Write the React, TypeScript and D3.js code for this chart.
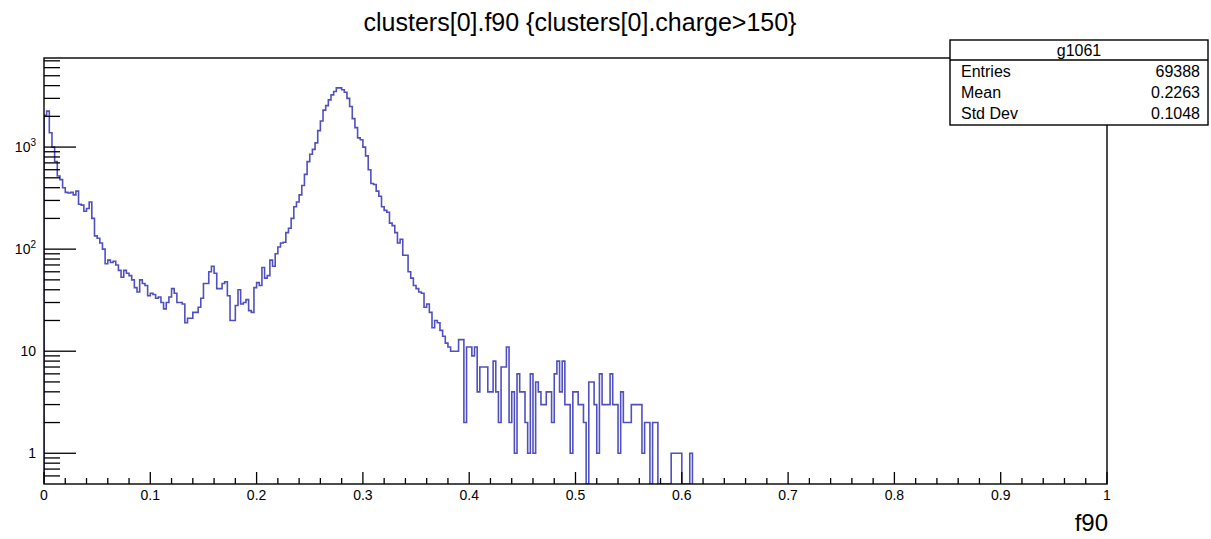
import React from "react";
import * as d3 from "d3";

// Histogram of clusters[0].f90 for clusters with charge > 150 (400 bins on [0, 1]).
const N_BINS = 400;
const X_MIN = 0;
const X_MAX = 1;
const Y_MIN = 0.5;
const Y_MAX = 7460;

// Bin contents, starting at bin 0; bins after the last entry are empty.
const binCounts = [
  2050, 2250, 1380, 1000, 720, 520, 480, 400, 360, 355,
  360, 340, 370, 275, 270, 235, 250, 290, 200, 135,
  128, 115, 100, 72, 78, 74, 76, 70, 62, 53,
  62, 58, 55, 50, 42, 38, 50, 46, 44, 35,
  37, 36, 33, 34, 30, 26, 30, 34, 41, 37,
  30, 30, 29, 19, 21, 21, 24, 24, 27, 33,
  46, 46, 60, 68, 58, 41, 41, 46, 48, 35,
  20, 20, 28, 40, 29, 30, 32, 25, 24, 42,
  47, 44, 66, 52, 55, 78, 68, 90, 105, 115,
  117, 145, 160, 200, 260, 290, 340, 420, 540, 720,
  850, 950, 1100, 1450, 1800, 2300, 2550, 2900, 3250, 3500,
  3800, 3800, 3650, 3450, 3000, 2500, 1900, 1550, 1230, 1180,
  1000, 820, 600, 440, 430, 370, 330, 260, 240, 230,
  180, 170, 145, 115, 125, 87, 87, 60, 52, 44,
  41, 38, 37, 27, 29, 24, 17, 20, 19, 16,
  14, 12, 11, 10, 10, 10, 13, 13, 2, 11,
  11, 9, 11, 4, 7, 7, 7, 4, 4, 8,
  4, 2, 7, 7, 11, 2, 4, 1, 6, 4,
  4, 2, 1, 6, 1, 5, 4, 3, 3, 4,
  4, 2, 6, 8, 4, 8, 3, 3, 1, 4,
  4, 3, 3, 2, 0, 5, 5, 3, 1, 6,
  3, 3, 3, 6, 3, 3, 1, 4, 2, 2,
  2, 3, 3, 3, 3, 1, 2, 2, 0, 2,
  2, 0, 0, 0, 0, 0, 1, 1, 1, 1,
  0, 0, 0, 1,
];

const xTickValues = [0, 0.1, 0.2, 0.3, 0.4, 0.5, 0.6, 0.7, 0.8, 0.9, 1];
const xTickLabels = ["0", "0.1", "0.2", "0.3", "0.4", "0.5", "0.6", "0.7", "0.8", "0.9", "1"];
const yMajorValues = [1, 10, 100, 1000];
const yLabelBases = ["1", "10", "10", "10"];
const yLabelExponents = ["", "", "2", "3"];

const titleText = "clusters[0].f90 {clusters[0].charge>150}";
const xAxisTitle = "f90";
const statsName = "g1061";
const statLabels = ["Entries", "Mean", "Std Dev"];
const statValues = ["69388", "0.2263", "0.1048"];

const FONT = "'Liberation Sans', Arial, Helvetica, sans-serif";
const FRAME = { left: 44, right: 1107, top: 58, bottom: 484 };
const HIST_COLOR = "#5050c0";

export default function App() {
  const x = d3.scaleLinear().domain([X_MIN, X_MAX]).range([FRAME.left, FRAME.right]);
  const y = d3.scaleLog().domain([Y_MIN, Y_MAX]).range([FRAME.bottom, FRAME.top]);
  const binWidth = (X_MAX - X_MIN) / N_BINS;

  // Step outline: empty bins drop to the bottom of the frame.
  const pts: [number, number][] = [[x(X_MIN), y(Y_MIN)]];
  binCounts.forEach((c, i) => {
    const yy = y(Math.max(c, Y_MIN));
    pts.push([x(X_MIN + i * binWidth), yy], [x(X_MIN + (i + 1) * binWidth), yy]);
  });
  pts.push([x(X_MIN + binCounts.length * binWidth), y(Y_MIN)]);
  const histPath = d3.line()(pts) || "";

  // Log-axis ticks: 1..9 per decade inside the domain.
  const yTicks: { v: number; major: boolean }[] = [];
  for (let e = -1; e <= 4; e++) {
    for (let k = 1; k <= 9; k++) {
      const v = k * Math.pow(10, e);
      if (v > Y_MIN * 1.001 && v < Y_MAX) yTicks.push({ v, major: k === 1 });
    }
  }

  // Linear x ticks: minor every 0.02, major every 0.1.
  const xTicks: { v: number; major: boolean }[] = [];
  for (let i = 0; i <= 50; i++) xTicks.push({ v: i * 0.02, major: i % 5 === 0 });

  const box = { left: 950, right: 1208, top: 40, header: 60, bottom: 125 };

  return (
    <svg
      width={1211}
      height={539}
      style={{ position: "absolute", left: 0, top: 0, display: "block", background: "#fff" }}
      fontFamily={FONT}
    >
      <rect x={0} y={0} width={1211} height={539} fill="#fff" />

      <text x={580} y={31} textAnchor="middle" fontSize={25} fill="#000">
        {titleText}
      </text>

      <defs>
        <clipPath id="plotClip">
          <rect
            x={FRAME.left}
            y={FRAME.top}
            width={FRAME.right - FRAME.left}
            height={FRAME.bottom - FRAME.top}
          />
        </clipPath>
      </defs>

      <path
        d={histPath}
        fill="none"
        stroke={HIST_COLOR}
        strokeWidth={1.6}
        strokeLinejoin="miter"
        clipPath="url(#plotClip)"
      />

      {/* frame */}
      <rect
        x={FRAME.left}
        y={FRAME.top}
        width={FRAME.right - FRAME.left}
        height={FRAME.bottom - FRAME.top}
        fill="none"
        stroke="#000"
        strokeWidth={1.4}
      />

      {/* y axis ticks */}
      {yTicks.map((t, i) => (
        <line
          key={"yt" + i}
          x1={FRAME.left}
          x2={FRAME.left + (t.major ? 32 : 16)}
          y1={y(t.v)}
          y2={y(t.v)}
          stroke="#000"
          strokeWidth={1.3}
        />
      ))}
      {yMajorValues.map((v, i) => (
        <text key={"yl" + i} x={36} y={y(v) + 5} textAnchor="end" fontSize={14} fill="#000">
          {yLabelBases[i]}
          {yLabelExponents[i] ? (
            <tspan fontSize={10} dy={-6}>
              {yLabelExponents[i]}
            </tspan>
          ) : null}
        </text>
      ))}

      {/* x axis ticks */}
      {xTicks.map((t, i) => (
        <line
          key={"xt" + i}
          x1={x(t.v)}
          x2={x(t.v)}
          y1={FRAME.bottom}
          y2={FRAME.bottom - (t.major ? 12 : 6)}
          stroke="#000"
          strokeWidth={1.3}
        />
      ))}
      {xTickValues.map((v, i) => (
        <text key={"xl" + i} x={x(v)} y={500} textAnchor="middle" fontSize={14} fill="#000">
          {xTickLabels[i]}
        </text>
      ))}

      <text x={1108} y={531} textAnchor="end" fontSize={24} fill="#000">
        {xAxisTitle}
      </text>

      {/* statistics box */}
      <rect
        x={box.left}
        y={box.top}
        width={box.right - box.left}
        height={box.bottom - box.top}
        fill="#fff"
        stroke="#000"
        strokeWidth={1.4}
      />
      <line x1={box.left} x2={box.right} y1={box.header} y2={box.header} stroke="#000" strokeWidth={1.4} />
      <text x={(box.left + box.right) / 2} y={56} textAnchor="middle" fontSize={16} fill="#000">
        {statsName}
      </text>
      {statLabels.map((s, i) => (
        <g key={"st" + i}>
          <text x={961} y={77 + i * 21} fontSize={16} fill="#000">
            {s}
          </text>
          <text x={1200} y={77 + i * 21} textAnchor="end" fontSize={16} fill="#000">
            {statValues[i]}
          </text>
        </g>
      ))}
    </svg>
  );
}
